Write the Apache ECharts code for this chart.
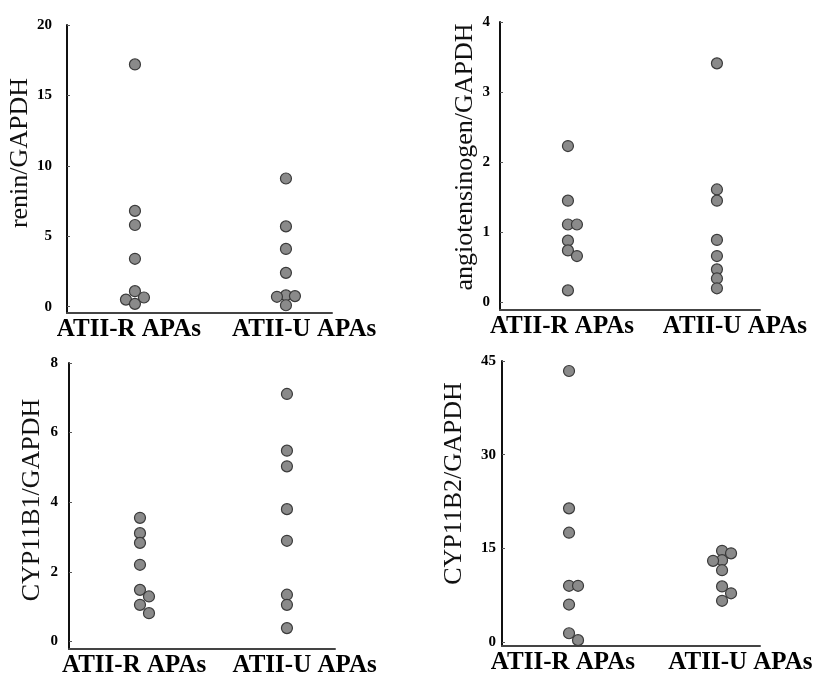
<!DOCTYPE html>
<html>
<head>
<meta charset="utf-8">
<script src="https://cdn.jsdelivr.net/npm/echarts@6/dist/echarts.min.js"></script>
<style>
  html, body { margin: 0; padding: 0; background: #fff; }
  #main { width: 816px; height: 683px; }
</style>
</head>
<body>
<div id="main"></div>
<script>
// grupos no eixo x
var categories = ['ATII-R APAs', 'ATII-U APAs'];

// valores (8 tumores por grupo)
var reninR = [17.2, 6.8, 5.8, 3.4, 1.1, 0.65, 0.5, 0.2];
var reninU = [9.1, 5.7, 4.1, 2.4, 0.8, 0.75, 0.7, 0.1];
var angioR = [2.23, 1.45, 1.11, 1.11, 0.88, 0.74, 0.66, 0.17];
var angioU = [3.41, 1.61, 1.45, 0.89, 0.66, 0.47, 0.34, 0.2];
var cyp1R = [3.55, 3.11, 2.83, 2.2, 1.48, 1.29, 1.05, 0.81];
var cyp1U = [7.11, 5.48, 5.03, 3.8, 2.89, 1.34, 1.05, 0.38];
var cyp2R = [43.4, 21.4, 17.5, 9.0, 9.0, 6.0, 1.4, 0.3];
var cyp2U = [14.6, 14.2, 13.1, 13.0, 11.5, 8.9, 7.8, 6.6];

// eixos y
var yNames = ['renin/GAPDH', 'angiotensinogen/GAPDH', 'CYP11B1/GAPDH', 'CYP11B2/GAPDH'];
var yTicks = [[0, 5, 10, 15, 20], [0, 1, 2, 3, 4], [0, 2, 4, 6, 8], [0, 15, 30, 45]];

var groups = [[reninR, reninU], [angioR, angioU], [cyp1R, cyp1U], [cyp2R, cyp2U]];

// layout de cada painel (pixels)
var panels = [
    { left: 67,  top: 25,  width: 265, height: 288, yMin: -0.45, xMin: -0.45,  xMax: 1.305, nameGap: 30, shift: 16, margin: 15 },
    { left: 500, top: 22,  width: 260, height: 288, yMin: -0.11, xMin: -0.456, xMax: 1.289, nameGap: 18, shift: 9,  margin: 10 },
    { left: 69,  top: 363, width: 266, height: 286, yMin: -0.22, xMin: -0.483, xMax: 1.327, nameGap: 24, shift: 6,  margin: 11 },
    { left: 502, top: 361, width: 258, height: 285, yMin: -0.64, xMin: -0.438, xMax: 1.248, nameGap: 35, shift: 20, margin: 6 }
];
var labelPos = [-0.04, 1.12];

var serif = "'Liberation Serif', 'Times New Roman', serif";

// espalha os pontos sobrepostos para os lados (beeswarm simples)
function swarm(values, idx, pxY, pxX) {
    var placed = [];
    var steps = [0, 9, -9, 18, -18, 27, -27];
    return values.slice().sort(function(a, b) { return b - a; }).map(function(v) {
        var py = v * pxY, dx = 0;
        for (var k = 0; k < steps.length; k++) {
            dx = steps[k];
            var ok = placed.every(function(p) {
                return Math.hypot(p[0] - dx, p[1] - py) >= 9;
            });
            if (ok) break;
        }
        placed.push([dx, py]);
        return [idx + dx / pxX, v];
    });
}

var grid = [], xAxis = [], yAxis = [], series = [];

panels.forEach(function(p, i) {
    var ticks = yTicks[i];
    var yMax = ticks[ticks.length - 1];
    var pxY = p.height / (yMax - p.yMin);
    var pxX = p.width / (p.xMax - p.xMin);

    grid.push({ left: p.left, top: p.top, width: p.width, height: p.height });

    xAxis.push({
        gridIndex: i,
        type: 'value',
        min: p.xMin,
        max: p.xMax,
        splitLine: { show: false },
        axisTick: { show: false },
        axisLine: { onZero: false, lineStyle: { color: '#444', width: 2 } },
        axisLabel: {
            customValues: labelPos,
            margin: 4,
            color: '#000',
            fontFamily: serif,
            fontWeight: 'bold',
            fontSize: 25,
            formatter: function(v) { return v < 0.5 ? categories[0] : categories[1]; }
        }
    });

    yAxis.push({
        gridIndex: i,
        type: 'value',
        min: p.yMin,
        max: yMax,
        name: yNames[i],
        nameLocation: 'middle',
        nameGap: p.nameGap,
        nameTextStyle: {
            fontFamily: serif,
            fontSize: 26,
            color: '#111',
            padding: [0, 0, 0, 2 * p.shift]
        },
        splitLine: { show: false },
        axisLine: { show: true, onZero: false, lineStyle: { color: '#111', width: 2 } },
        axisTick: { show: true, inside: true, length: 3, customValues: ticks, lineStyle: { color: '#555' } },
        axisLabel: {
            customValues: ticks,
            margin: p.margin,
            color: '#000',
            fontFamily: serif,
            fontWeight: 'bold',
            fontSize: 15
        }
    });

    groups[i].forEach(function(vals, j) {
        series.push({
            type: 'scatter',
            xAxisIndex: i,
            yAxisIndex: i,
            symbol: 'circle',
            symbolSize: 11,
            clip: false,
            itemStyle: { color: '#8a8a8a', borderColor: '#3a3a3a', borderWidth: 1.2, opacity: 1 },
            data: swarm(vals, j, pxY, pxX)
        });
    });
});

var chart = echarts.init(document.getElementById('main'), null, { renderer: 'canvas' });
chart.setOption({
    animation: false,
    backgroundColor: '#fff',
    grid: grid,
    xAxis: xAxis,
    yAxis: yAxis,
    series: series
});
</script>
</body>
</html>
